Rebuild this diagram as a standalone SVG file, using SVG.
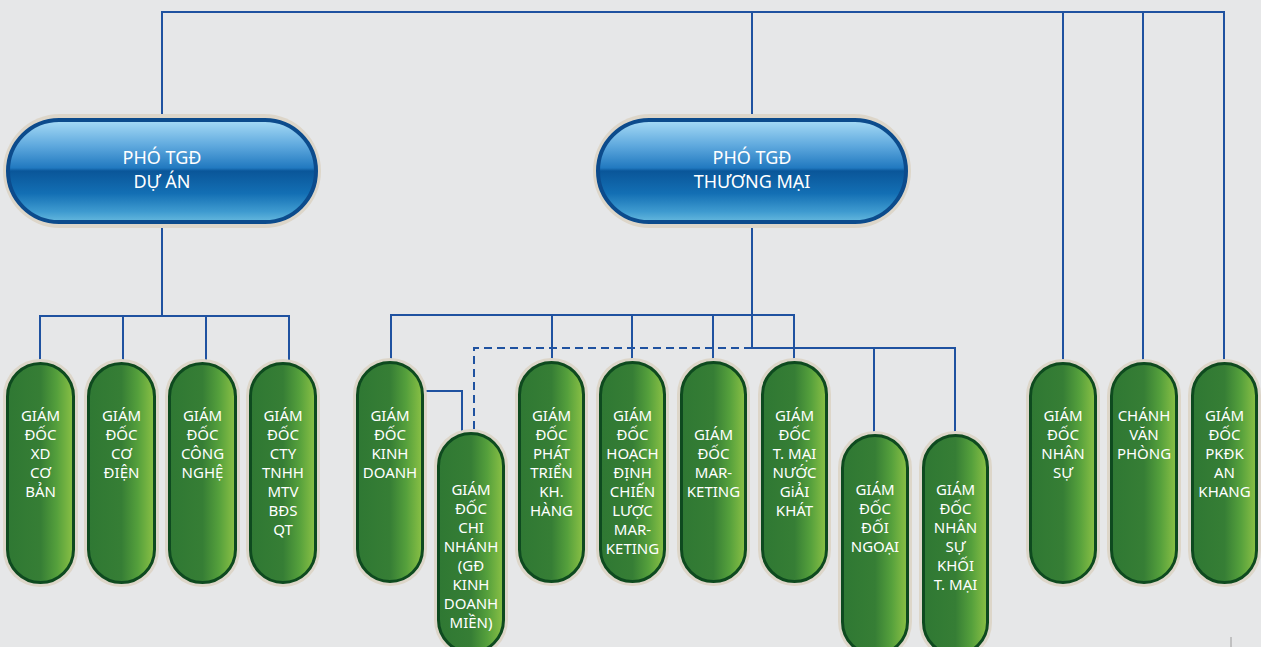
<svg xmlns="http://www.w3.org/2000/svg" width="1261" height="647" viewBox="0 0 1261 647">
<defs>
<linearGradient id="gBlue" x1="0" y1="0" x2="0" y2="1">
<stop offset="0" stop-color="#a8dcf6"/>
<stop offset="0.25" stop-color="#5fa9de"/>
<stop offset="0.47" stop-color="#2179c0"/>
<stop offset="0.5" stop-color="#0a5699"/>
<stop offset="0.72" stop-color="#136fb4"/>
<stop offset="0.9" stop-color="#3f9bd0"/>
<stop offset="1" stop-color="#66b9de"/>
</linearGradient>
<linearGradient id="gGreen" x1="0" y1="0" x2="1" y2="0">
<stop offset="0" stop-color="#2f7833"/>
<stop offset="0.5" stop-color="#367e35"/>
<stop offset="0.75" stop-color="#55a03c"/>
<stop offset="1" stop-color="#8bc145"/>
</linearGradient>
<style>
.halo{fill:#ddd6c9;}
.blue{fill:url(#gBlue);stroke:#0c4b8c;stroke-width:4;}
.green{fill:url(#gGreen);stroke:#0e4a1f;stroke-width:3;}
.bt{font-family:"Noto Sans","DejaVu Sans",sans-serif;font-size:18px;fill:#ffffff;text-anchor:middle;}
.gt{font-family:"Noto Sans","DejaVu Sans",sans-serif;font-size:15px;fill:#ffffff;text-anchor:middle;}
.ln{fill:none;stroke:#1f52a0;stroke-width:2;}
.dash{fill:none;stroke:#1f52a0;stroke-width:2;stroke-dasharray:8 5;}
</style>
</defs>
<rect width="1261" height="647" fill="#e6e7e8"/>
<g id="connectors">
<path class="ln" d="M162 114 V12 H1224 V362"/>
<path class="ln" d="M752 12 V114"/>
<path class="ln" d="M1063 12 V362"/>
<path class="ln" d="M1143 12 V362"/>
<path class="ln" d="M162 228 V316"/>
<path class="ln" d="M40 362 V316 H289 V362"/>
<path class="ln" d="M123 316 V362"/>
<path class="ln" d="M206 316 V362"/>
<path class="ln" d="M752 228 V348 H955 V433"/>
<path class="ln" d="M874 348 V434"/>
<path class="ln" d="M391 361 V315 H794 V361"/>
<path class="ln" d="M552 315 V361"/>
<path class="ln" d="M632 315 V361"/>
<path class="ln" d="M713 315 V361"/>
<path class="dash" d="M752 348 H474 V431"/>
<path class="ln" d="M424 391 H462 V432"/>
</g>
<g id="pho-tgd-du-an">
<rect class="halo" x="3" y="114" width="318" height="114" rx="57"/>
<rect class="blue" x="8" y="120" width="308" height="102" rx="51"/>
<text class="bt" x="162" y="164">PHÓ TGĐ</text>
<text class="bt" x="162" y="188">DỰ ÁN</text>
</g>
<g id="pho-tgd-thuong-mai">
<rect class="halo" x="593" y="114" width="318" height="114" rx="57"/>
<rect class="blue" x="598" y="120" width="308" height="102" rx="51"/>
<text class="bt" x="752" y="164">PHÓ TGĐ</text>
<text class="bt" x="752" y="188">THƯƠNG MẠI</text>
</g>
<g id="gd-xd-co-ban">
<rect class="halo" x="3" y="359" width="75" height="228" rx="37"/>
<rect class="green" x="7.5" y="363.5" width="66" height="219" rx="33"/>
<text class="gt" x="40.5" y="421">GIÁM</text><text class="gt" x="40.5" y="440">ĐỐC</text><text class="gt" x="40.5" y="459">XD</text><text class="gt" x="40.5" y="478">CƠ</text><text class="gt" x="40.5" y="497">BẢN</text>
</g>
<g id="gd-co-dien">
<rect class="halo" x="84" y="359" width="75" height="228" rx="37"/>
<rect class="green" x="88.5" y="363.5" width="66" height="219" rx="33"/>
<text class="gt" x="121.5" y="421">GIÁM</text><text class="gt" x="121.5" y="440">ĐỐC</text><text class="gt" x="121.5" y="459">CƠ</text><text class="gt" x="121.5" y="478">ĐIỆN</text>
</g>
<g id="gd-cong-nghe">
<rect class="halo" x="165" y="359" width="75" height="228" rx="37"/>
<rect class="green" x="169.5" y="363.5" width="66" height="219" rx="33"/>
<text class="gt" x="202.5" y="421">GIÁM</text><text class="gt" x="202.5" y="440">ĐỐC</text><text class="gt" x="202.5" y="459">CÔNG</text><text class="gt" x="202.5" y="478">NGHỆ</text>
</g>
<g id="gd-cty-tnhh">
<rect class="halo" x="246" y="359" width="74" height="228" rx="37"/>
<rect class="green" x="250.5" y="363.5" width="65" height="219" rx="32.5"/>
<text class="gt" x="283" y="421">GIÁM</text><text class="gt" x="283" y="440">ĐỐC</text><text class="gt" x="283" y="459">CTY</text><text class="gt" x="283" y="478">TNHH</text><text class="gt" x="283" y="497">MTV</text><text class="gt" x="283" y="516">BĐS</text><text class="gt" x="283" y="535">QT</text>
</g>
<g id="gd-kinh-doanh">
<rect class="halo" x="353" y="358" width="74" height="228" rx="37"/>
<rect class="green" x="357.5" y="362.5" width="65" height="219" rx="32.5"/>
<text class="gt" x="390" y="421">GIÁM</text><text class="gt" x="390" y="440">ĐỐC</text><text class="gt" x="390" y="459">KINH</text><text class="gt" x="390" y="478">DOANH</text>
</g>
<g id="gd-chi-nhanh">
<rect class="halo" x="434" y="429" width="74" height="228" rx="37"/>
<rect class="green" x="438.5" y="433.5" width="65" height="219" rx="32.5"/>
<text class="gt" x="471" y="495">GIÁM</text><text class="gt" x="471" y="514">ĐỐC</text><text class="gt" x="471" y="533">CHI</text><text class="gt" x="471" y="552">NHÁNH</text><text class="gt" x="471" y="571">(GĐ</text><text class="gt" x="471" y="590">KINH</text><text class="gt" x="471" y="609">DOANH</text><text class="gt" x="471" y="628">MIỀN)</text>
</g>
<g id="gd-phat-trien-kh-hang">
<rect class="halo" x="515" y="358" width="73" height="228" rx="36"/>
<rect class="green" x="519.5" y="362.5" width="64" height="219" rx="32"/>
<text class="gt" x="551.5" y="421">GIÁM</text><text class="gt" x="551.5" y="440">ĐỐC</text><text class="gt" x="551.5" y="459">PHÁT</text><text class="gt" x="551.5" y="478">TRIỂN</text><text class="gt" x="551.5" y="497">KH.</text><text class="gt" x="551.5" y="516">HÀNG</text>
</g>
<g id="gd-hoach-dinh">
<rect class="halo" x="596" y="358" width="73" height="228" rx="36"/>
<rect class="green" x="600.5" y="362.5" width="64" height="219" rx="32"/>
<text class="gt" x="632.5" y="421">GIÁM</text><text class="gt" x="632.5" y="440">ĐỐC</text><text class="gt" x="632.5" y="459">HOẠCH</text><text class="gt" x="632.5" y="478">ĐỊNH</text><text class="gt" x="632.5" y="497">CHIẾN</text><text class="gt" x="632.5" y="516">LƯỢC</text><text class="gt" x="632.5" y="535">MAR-</text><text class="gt" x="632.5" y="554">KETING</text>
</g>
<g id="gd-marketing">
<rect class="halo" x="677" y="358" width="73" height="228" rx="36"/>
<rect class="green" x="681.5" y="362.5" width="64" height="219" rx="32"/>
<text class="gt" x="713.5" y="440">GIÁM</text><text class="gt" x="713.5" y="459">ĐỐC</text><text class="gt" x="713.5" y="478">MAR-</text><text class="gt" x="713.5" y="497">KETING</text>
</g>
<g id="gd-tmai-nuoc-giai-khat">
<rect class="halo" x="758" y="358" width="73" height="228" rx="36"/>
<rect class="green" x="762.5" y="362.5" width="64" height="219" rx="32"/>
<text class="gt" x="794.5" y="421">GIÁM</text><text class="gt" x="794.5" y="440">ĐỐC</text><text class="gt" x="794.5" y="459">T. MẠI</text><text class="gt" x="794.5" y="478">NƯỚC</text><text class="gt" x="794.5" y="497">GiẢI</text><text class="gt" x="794.5" y="516">KHÁT</text>
</g>
<g id="gd-doi-ngoai">
<rect class="halo" x="838" y="431" width="74" height="228" rx="37"/>
<rect class="green" x="842.5" y="435.5" width="65" height="219" rx="32.5"/>
<text class="gt" x="875" y="495">GIÁM</text><text class="gt" x="875" y="514">ĐỐC</text><text class="gt" x="875" y="533">ĐỐI</text><text class="gt" x="875" y="552">NGOẠI</text>
</g>
<g id="gd-nhan-su-khoi-tmai">
<rect class="halo" x="919" y="431" width="73" height="228" rx="36"/>
<rect class="green" x="923.5" y="435.5" width="64" height="219" rx="32"/>
<text class="gt" x="955.5" y="495">GIÁM</text><text class="gt" x="955.5" y="514">ĐỐC</text><text class="gt" x="955.5" y="533">NHÂN</text><text class="gt" x="955.5" y="552">SỰ</text><text class="gt" x="955.5" y="571">KHỐI</text><text class="gt" x="955.5" y="590">T. MẠI</text>
</g>
<g id="gd-nhan-su">
<rect class="halo" x="1026" y="359" width="74" height="228" rx="37"/>
<rect class="green" x="1030.5" y="363.5" width="65" height="219" rx="32.5"/>
<text class="gt" x="1063" y="421">GIÁM</text><text class="gt" x="1063" y="440">ĐỐC</text><text class="gt" x="1063" y="459">NHÂN</text><text class="gt" x="1063" y="478">SỰ</text>
</g>
<g id="chanh-van-phong">
<rect class="halo" x="1107" y="359" width="74" height="228" rx="37"/>
<rect class="green" x="1111.5" y="363.5" width="65" height="219" rx="32.5"/>
<text class="gt" x="1144" y="421">CHÁNH</text><text class="gt" x="1144" y="440">VĂN</text><text class="gt" x="1144" y="459">PHÒNG</text>
</g>
<g id="gd-pkdk-an-khang">
<rect class="halo" x="1188" y="359" width="73" height="228" rx="36"/>
<rect class="green" x="1192.5" y="363.5" width="64" height="219" rx="32"/>
<text class="gt" x="1224.5" y="421">GIÁM</text><text class="gt" x="1224.5" y="440">ĐỐC</text><text class="gt" x="1224.5" y="459">PKĐK</text><text class="gt" x="1224.5" y="478">AN</text><text class="gt" x="1224.5" y="497">KHANG</text>
</g>
<line x1="1231" y1="637" x2="1231" y2="647" stroke="#9a9a9a" stroke-width="1"/>
</svg>
